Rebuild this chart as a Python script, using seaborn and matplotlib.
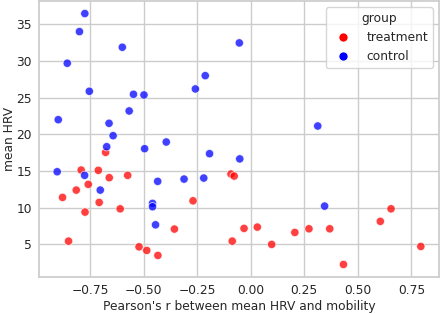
import numpy as np
import pandas as pd
import matplotlib
matplotlib.use("Agg")
import matplotlib.pyplot as plt
import seaborn as sns

treat_r = [-0.677, -0.791, -0.711, -0.660, -0.574, -0.758, -0.814, -0.878, -0.707, -0.609,
           -0.773, -0.269, -0.356, -0.850, -0.521, -0.485, -0.433, -0.092, -0.077, -0.031,
           0.031, -0.086, 0.098, 0.206, 0.272, 0.369, 0.433, 0.605, 0.655, 0.794]
treat_hrv = [17.54, 15.13, 15.09, 14.09, 14.41, 13.18, 12.40, 11.40, 10.72, 9.85,
             9.40, 10.94, 7.09, 5.45, 4.67, 4.18, 3.50, 14.59, 14.31, 7.18,
             7.36, 5.45, 5.00, 6.63, 7.13, 7.13, 2.27, 8.14, 9.85, 4.72]
ctrl_r = [-0.774, -0.799, -0.599, -0.856, -0.212, -0.258, -0.753, -0.547, -0.498, -0.567,
          -0.898, -0.661, -0.642, -0.394, -0.672, -0.495, -0.192, -0.053, 0.313, -0.051,
          -0.903, -0.775, -0.702, -0.434, -0.311, -0.219, -0.458, -0.458, -0.444, 0.345]
ctrl_hrv = [36.45, 33.99, 31.86, 29.68, 27.99, 26.18, 25.86, 25.45, 25.36, 23.18,
            21.99, 21.50, 19.81, 18.95, 18.31, 18.04, 17.36, 32.45, 21.13, 16.65,
            14.90, 14.41, 12.40, 13.59, 13.90, 14.04, 10.59, 10.13, 7.67, 10.22]
groups = ["treatment", "control"]

df = pd.DataFrame({
    "r": treat_r + ctrl_r,
    "hrv": treat_hrv + ctrl_hrv,
    "group": [groups[0]] * len(treat_r) + [groups[1]] * len(ctrl_r),
})

sns.set_theme(style="whitegrid")
plt.rcParams["font.family"] = ["DejaVu Sans"]
fs = 8.8
fig = plt.figure(figsize=(4.4, 3.14), dpi=100)
ax = fig.add_axes([39 / 440, 37 / 314, 400 / 440, 276 / 314])
sns.scatterplot(data=df, x="r", y="hrv", hue="group", hue_order=groups,
                palette={"treatment": "red", "control": "blue"}, alpha=0.75,
                s=36, linewidth=0.6, ax=ax)
ax.set_xlabel("Pearson's r between mean HRV and mobility", fontsize=fs, labelpad=2)
ax.set_ylabel("mean HRV", fontsize=fs, labelpad=0)
ax.tick_params(labelsize=fs, length=0, pad=5)
ax.set_xticks([-0.75, -0.5, -0.25, 0.0, 0.25, 0.5, 0.75])
ax.set_yticks([5, 10, 15, 20, 25, 30, 35])
leg = ax.legend(title="group", loc="upper right", fontsize=fs, title_fontsize=fs,
                markerscale=1.1, handletextpad=0.9)
for h in leg.legend_handles:
    h.set_alpha(1)
fig.savefig("out.png", dpi=100)
